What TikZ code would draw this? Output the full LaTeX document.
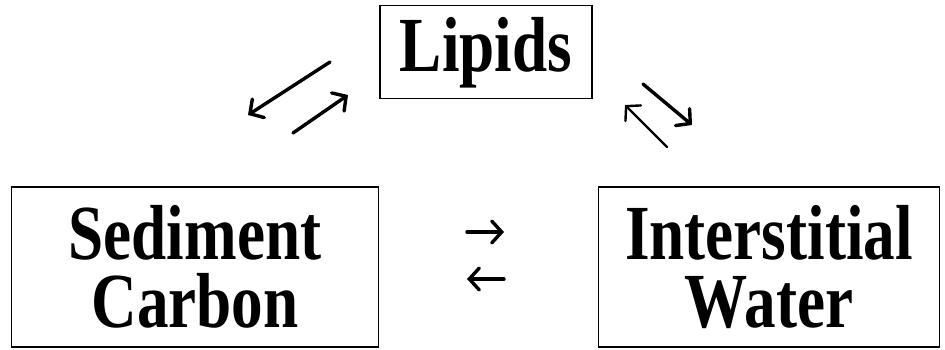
\documentclass[tikz,border=0pt]{standalone}
\usepackage{fontspec}
\newfontfamily\boxfont{Liberation Serif}[FakeStretch=0.81]
\usetikzlibrary{arrows.meta}
\begin{document}
\begin{tikzpicture}[x=1pt, y=-1pt,
  box/.style={draw, line width=1.7pt, inner sep=0pt, align=center,
    font=\boxfont\bfseries\fontsize{78}{68}\selectfont},
  flux/.style={line width=3.4pt, line cap=round,
    -{Straight Barb[length=10pt, width=22pt, line cap=round]}},
  thinflux/.style={flux, line width=2.4pt}]
  \useasboundingbox (0,0) rectangle (945,350);

  % compartments
  \node[box, minimum width=212pt, minimum height=93pt,
        text height=56pt, text depth=16pt] (lip) at (486,52) {Lipids};
  \node[box, minimum width=367pt, minimum height=160pt,
        text height=130pt, text depth=10pt] (sed) at (195,267) {Sediment\\Carbon};
  \node[box, minimum width=341pt, minimum height=160pt,
        text height=130pt, text depth=10pt] (iw) at (769,267) {Interstitial\\Water};

  % end points of the exchange arrows
  \coordinate (ls1) at (330,62);  \coordinate (le1) at (248,115);
  \coordinate (ls2) at (293,133); \coordinate (le2) at (348,95);
  \coordinate (rs1) at (643,84);  \coordinate (re1) at (692,125);
  \coordinate (rs2) at (667,147); \coordinate (re2) at (625,105);
  \coordinate (ms1) at (467,232); \coordinate (me1) at (504,232);
  \coordinate (ms2) at (504,279); \coordinate (me2) at (467,279);

  % lipids <-> sediment carbon
  \draw[flux] (ls1) -- (le1);
  \draw[flux] (ls2) -- (le2);
  % lipids <-> interstitial water
  \draw[flux] (rs1) -- (re1);
  \draw[thinflux] (rs2) -- (re2);
  % sediment carbon <-> interstitial water
  \draw[flux] (ms1) -- (me1);
  \draw[flux] (ms2) -- (me2);
\end{tikzpicture}
\end{document}
